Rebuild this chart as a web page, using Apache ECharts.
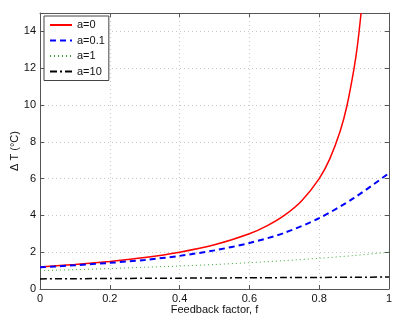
<!DOCTYPE html>
<html>
<head>
<meta charset="utf-8">
<script src="https://cdn.jsdelivr.net/npm/echarts@6/dist/echarts.min.js"></script>
<style>html,body{margin:0;padding:0;background:#fff;}#c{width:400px;height:327px;}</style>
</head>
<body>
<div id="c"></div>
<script>
// Feedback factor values (x)
const fRed = [0, 0.1, 0.2, 0.3, 0.4, 0.5, 0.6, 0.65, 0.7, 0.75, 0.8, 0.83, 0.86, 0.88, 0.9, 0.91, 0.92];
const tA0 = [1.2, 1.33, 1.5, 1.71, 2.0, 2.4, 3.0, 3.43, 4.0, 4.8, 6.0, 7.06, 8.57, 10.0, 12.0, 13.3, 15.0];
const fVals = [0, 0.1, 0.2, 0.3, 0.4, 0.5, 0.6, 0.7, 0.8, 0.9, 1.0];
const tA01 = [1.18, 1.29, 1.42, 1.58, 1.8, 2.1, 2.5, 3.05, 3.85, 4.95, 6.3];
const tA1 = [1.0, 1.05, 1.11, 1.18, 1.25, 1.33, 1.43, 1.54, 1.67, 1.82, 2.0];
const tA10 = [0.55, 0.56, 0.57, 0.58, 0.59, 0.6, 0.61, 0.62, 0.63, 0.64, 0.65];
const seriesNames = ['a=0', 'a=0.1', 'a=1', 'a=10'];
const xTicks = [0, 0.2, 0.4, 0.6, 0.8, 1];
const yTicks = [0, 2, 4, 6, 8, 10, 12, 14];

function pairs(xs, ys) { return xs.map((x, i) => [x, ys[i]]); }

const FONT = 'Liberation Sans, Arial, sans-serif';
const axisCol = '#555';
const gridLine = { show: true, lineStyle: { color: '#c8c8c8', type: [1, 3], width: 1 } };

const chart = echarts.init(document.getElementById('c'), null, { renderer: 'canvas' });
chart.setOption({
  backgroundColor: '#fff',
  animation: false,
  grid: { left: 40, right: 11, top: 13, bottom: 38, containLabel: false, outerBoundsMode: 'none' },
  legend: {
    data: seriesNames,
    orient: 'vertical',
    left: 44, top: 16,
    padding: [3.5, 4, 3.5, 5],
    itemWidth: 22, itemHeight: 9, itemGap: 4.5,
    backgroundColor: '#fff',
    borderColor: '#444', borderWidth: 1,
    borderRadius: 0,
    itemStyle: { opacity: 0 },
    textStyle: { fontFamily: FONT, fontSize: 11, color: '#111' }
  },
  xAxis: [{
    type: 'value', min: 0, max: 1, interval: 0.2,
    name: 'Feedback factor, f', nameLocation: 'middle', nameGap: 15, nameMoveOverlap: false,
    nameTextStyle: { fontFamily: FONT, fontSize: 11, color: '#111', verticalAlign: 'top' },
    axisLine: { show: true, lineStyle: { color: axisCol } },
    axisTick: { show: true, inside: true, length: 4, lineStyle: { color: axisCol } },
    axisLabel: { fontFamily: FONT, fontSize: 11, color: '#111', margin: 4,
      formatter: v => xTicks.includes(+v.toFixed(1)) ? String(+v.toFixed(1)) : '' },
    splitLine: gridLine
  }, {
    type: 'value', min: 0, max: 1, interval: 0.2, position: 'top',
    axisLine: { show: true, onZero: false, lineStyle: { color: axisCol } },
    axisTick: { show: true, inside: true, length: 4, lineStyle: { color: axisCol } },
    axisLabel: { show: false }, splitLine: { show: false }
  }],
  yAxis: [{
    type: 'value', min: 0, max: 15, interval: 2,
    name: 'Δ T (°C)', nameLocation: 'middle', nameGap: 20, nameMoveOverlap: false,
    nameTextStyle: { fontFamily: FONT, fontSize: 11, color: '#111' },
    axisLine: { show: true, lineStyle: { color: axisCol } },
    axisTick: { show: true, inside: true, length: 4, lineStyle: { color: axisCol } },
    axisLabel: { fontFamily: FONT, fontSize: 11, color: '#111', margin: 4,
      formatter: v => yTicks.includes(v) ? String(v) : '' },
    splitLine: gridLine
  }, {
    type: 'value', min: 0, max: 15, interval: 2, position: 'right',
    axisLine: { show: true, onZero: false, lineStyle: { color: axisCol } },
    axisTick: { show: true, inside: true, length: 4, lineStyle: { color: axisCol } },
    axisLabel: { show: false }, splitLine: { show: false }
  }],
  series: [
    { name: seriesNames[0], type: 'line', data: pairs(fRed, tA0), symbol: 'none', smooth: 0.3,
      lineStyle: { color: '#ff0000', width: 1.5 }, itemStyle: { color: '#ff0000' }, clip: true },
    { name: seriesNames[1], type: 'line', data: pairs(fVals, tA01), symbol: 'none', smooth: 0.3,
      lineStyle: { color: '#0000ff', width: 2, type: [6, 4] }, itemStyle: { color: '#0000ff' } },
    { name: seriesNames[2], type: 'line', data: pairs(fVals, tA1), symbol: 'none', smooth: 0.3,
      lineStyle: { color: '#33aa33', width: 1, type: [1, 3] }, itemStyle: { color: '#33aa33' } },
    { name: seriesNames[3], type: 'line', data: pairs(fVals, tA10), symbol: 'none', smooth: 0.3,
      lineStyle: { color: '#000', width: 1.5, type: [7, 3, 2, 3] }, itemStyle: { color: '#000' } }
  ]
});
</script>
</body>
</html>
